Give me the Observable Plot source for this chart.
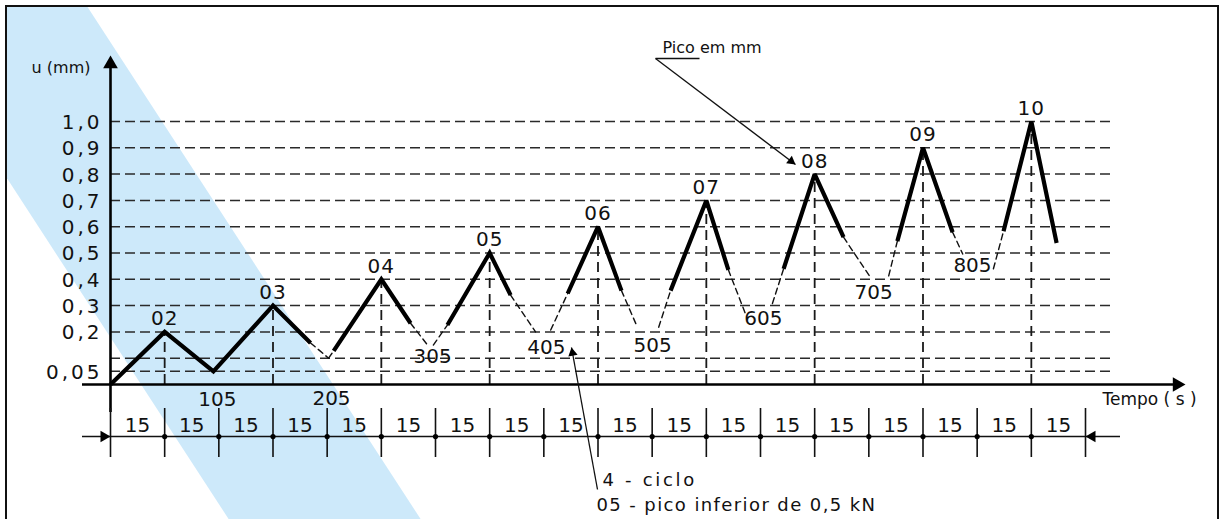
<!DOCTYPE html>
<html>
<head>
<meta charset="utf-8">
<script src="https://cdn.jsdelivr.net/npm/d3@7"></script>
<script src="https://cdn.jsdelivr.net/npm/@observablehq/plot@0.6"></script>
<style>
  html, body { margin: 0; padding: 0; background: #fff; }
  #wrap { position: relative; width: 1220px; height: 519px; overflow: hidden; background: #fff; }
  #frame { position: absolute; left: 5px; top: 5px; width: 1214px; height: 540px; border: 2px solid #111; box-sizing: border-box; overflow: hidden; }
  #band { position: absolute; left: -7px; top: -7px; width: 1220px; height: 545px; background: #cde9fa;
          clip-path: polygon(-109px 0px, 83px 0px, 431px 535px, 239px 535px); }
  #chart { position: absolute; left: 0; top: 0; }
</style>
</head>
<body>
<div id="wrap">
  <div id="frame"><div id="band"></div></div>
  <div id="chart"></div>
</div>
<script>
// ---------- data ----------
const peakLabels = ["02", "03", "04", "05", "06", "07", "08", "09", "10"];
const peakTime   = [15, 45, 75, 105, 135, 165, 195, 225, 255];
const peakValue  = [0.2, 0.3, 0.4, 0.5, 0.6, 0.7, 0.8, 0.9, 1.0];

// where the thick (solid) rise towards each peak begins
const riseStartTime  = [0, 28.5, 61.8, 93.3, 126.6, 155.1, 186.4, 217.9, 247.3];
const riseStartValue = [0, 0.05, 0.128, 0.226, 0.346, 0.357, 0.44, 0.545, 0.583];
// where the thick (solid) fall after each peak ends
const fallEndTime  = [28.5, 55.4, 83.1, 110.8, 141.5, 171.1, 203.0, 233.2, 262.0];
const fallEndValue = [0.05, 0.158, 0.233, 0.34, 0.357, 0.436, 0.56, 0.579, 0.538];

// lower peaks (valleys), drawn thin and dashed
const valleyLabels     = ["105", "205", "305", "405", "505", "605", "705", "805"];
const valleyInTime     = [28.5, 60.4, 87.8, 117.7, 145.9, 175.8, 210.5, 236.0];
const valleyInValue    = [0.05, 0.10, 0.15, 0.20, 0.218, 0.27, 0.406, 0.496];
const valleyOutTime    = [28.5, 60.4, 89.4, 121.9, 151.8, 183.3, 215.5, 244.5];
const valleyOutValue   = [0.05, 0.10, 0.15, 0.207, 0.218, 0.308, 0.413, 0.44];
const valleyLabelTime  = [29.6, 61.2, 89.2, 120.7, 150.1, 180.8, 211.3, 238.7];
const valleyLabelValue = [-0.057, -0.053, 0.106, 0.141, 0.148, 0.251, 0.35, 0.452];

// horizontal reference lines and the labelled ticks of u (mm)
const gridValues  = [0.05, 0.1, 0.2, 0.3, 0.4, 0.5, 0.6, 0.7, 0.8, 0.9, 1.0];
const yTickValues = [0.05, 0.2, 0.3, 0.4, 0.5, 0.6, 0.7, 0.8, 0.9, 1.0];

// time intervals (s) of the dimension line
const intervalSeconds = [15, 15, 15, 15, 15, 15, 15, 15, 15, 15, 15, 15, 15, 15, 15, 15, 15, 15];

// texts
const yTitle = "u (mm)";
const xTitle = "Tempo ( s )";
const peakNote = "Pico em mm";
const captionLines = ["4 - ciclo", "05 - pico inferior de 0,5 kN"];

// ---------- derived tables ----------
const peaks = peakLabels.map((label, i) => ({label, t: peakTime[i], u: peakValue[i]}));
const valleys = valleyLabels.map((label, i) => ({label, t: valleyLabelTime[i], u: valleyLabelValue[i]}));
const timeMarks = [0, ...d3.cumsum(intervalSeconds)];
const intervals = intervalSeconds.map((s, i) => ({s, mid: timeMarks[i] + s / 2}));
const fmt = v => v === 0.05 ? "0,05" : v.toFixed(1).replace(".", ",");

// solid polylines: riseStart -> peak -> fallEnd, merged when continuous
const solidRows = [];
let id = 0;
for (let i = 0; i < peaks.length; i++) {
  const continuous = i > 0 && riseStartTime[i] === fallEndTime[i - 1] && riseStartValue[i] === fallEndValue[i - 1];
  if (!continuous) {
    id++;
    solidRows.push({id, t: riseStartTime[i], u: riseStartValue[i]});
  }
  solidRows.push({id, t: peakTime[i], u: peakValue[i]});
  solidRows.push({id, t: fallEndTime[i], u: fallEndValue[i]});
}
// dashed pieces around each valley
const dashedRows = [];
for (let j = 0; j < valleyLabels.length; j++) {
  dashedRows.push({id: "a" + j, t: fallEndTime[j], u: fallEndValue[j]});
  dashedRows.push({id: "a" + j, t: valleyInTime[j], u: valleyInValue[j]});
  dashedRows.push({id: "b" + j, t: valleyOutTime[j], u: valleyOutValue[j]});
  dashedRows.push({id: "b" + j, t: riseStartTime[j + 1], u: riseStartValue[j + 1]});
}

// ---------- layout ----------
const W = 1220, H = 519;
const mL = 110, mR = 135, mT = 121, mB = 135;
const xDomain = [0, 270];
const pxT = (W - mL - mR) / (xDomain[1] - xDomain[0]);
const pxU = (H - mT - mB);
const tOfPx = px => (px - mL) / pxT;          // helpers for annotation placement
const uOfPx = py => (H - mB - py) / pxU;

function head(t, u, angle, r) {
  const s = 1.2103 * r;
  const a = angle * Math.PI / 180;
  return Plot.dot([{t, u}], {
    x: "t", y: "u", symbol: "triangle2", r, rotate: angle,
    dx: -s * Math.sin(a), dy: s * Math.cos(a), fill: "#000", stroke: "none"
  });
}
function angleOf(t1, u1, t2, u2) {
  const dx = (t2 - t1) * pxT, dy = -(u2 - u1) * pxU;
  return Math.atan2(dx, -dy) * 180 / Math.PI;
}

const dimU = -0.198;
const axisLeftT = tOfPx(82), axisTipT = tOfPx(1185);
const yTipU = uOfPx(55);
const pico = {t: tOfPx(662), u: uOfPx(47)};
const picoLine = {t1: tOfPx(655), u1: uOfPx(58), t2: tOfPx(699), tip: {t: tOfPx(795), u: uOfPx(164)}};
const cap = {t: tOfPx(602), u1: uOfPx(480), u2: uOfPx(505), t2: tOfPx(596)};
const capLine = {t1: tOfPx(597), u1: uOfPx(489), t2: tOfPx(571), u2: uOfPx(347)};

const ink = "#111";
const plot = Plot.plot({
  width: W, height: H,
  marginLeft: mL, marginRight: mR, marginTop: mT, marginBottom: mB,
  x: {domain: xDomain, axis: null},
  y: {domain: [0, 1], axis: null},
  style: {background: "transparent", fontFamily: "'DejaVu Sans', sans-serif", color: ink},
  marks: [
    // dashed reference lines
    Plot.ruleY(gridValues, {y: d => d, x1: () => 0, x2: () => tOfPx(1113), stroke: "#2a2a2a", strokeWidth: 1.5, strokeDasharray: "10,5"}),
    // dashed verticals under the peaks
    Plot.ruleX(peaks, {x: "t", y1: () => 0, y2: "u", stroke: "#1a1a1a", strokeWidth: 1.8, strokeDasharray: "10,6"}),
    // thin dashed parts near the lower peaks
    Plot.line(dashedRows, {x: "t", y: "u", z: "id", stroke: ink, strokeWidth: 1.4, strokeDasharray: "6,4"}),
    // thick solid parts
    Plot.line(solidRows, {x: "t", y: "u", z: "id", stroke: "#000", strokeWidth: 4.2, strokeLinejoin: "miter", strokeMiterlimit: 2.2, strokeLinecap: "butt"}),
    // axes
    Plot.ruleX([0], {x: d => d, y1: () => -0.106, y2: () => yTipU - 10 / pxU, stroke: "#000", strokeWidth: 2.6}),
    head(0, yTipU, 0, 7),
    Plot.ruleY([0], {y: d => d, x1: () => axisLeftT, x2: () => axisTipT - 10 / pxT, stroke: "#000", strokeWidth: 2.6}),
    head(axisTipT, 0, 90, 7),
    // dimension line
    Plot.ruleY([dimU], {y: d => d, x1: () => axisLeftT, x2: () => tOfPx(1120), stroke: ink, strokeWidth: 1.5}),
    Plot.ruleX(timeMarks, {x: d => d, y1: () => uOfPx(408), y2: () => uOfPx(457), stroke: ink, strokeWidth: 1.6}),
    Plot.dot(timeMarks.slice(1, -1), {x: d => d, y: () => dimU, r: 2.6, fill: "#000", stroke: "none"}),
    head(0, dimU, 90, 5.5),
    head(timeMarks[timeMarks.length - 1], dimU, -90, 5.5),
    Plot.text(intervals, {x: "mid", y: () => uOfPx(425), text: d => String(d.s), fontSize: 20, fill: ink}),
    // tick labels and titles
    Plot.text(yTickValues, {x: () => 0, y: d => d, text: fmt, textAnchor: "end", dx: -8, dy: 1, fontSize: 20, fill: ink}),
    Plot.text([yTitle], {x: () => tOfPx(90), y: () => uOfPx(67), text: d => d, textAnchor: "end", fontSize: 16, fill: ink}),
    Plot.text([xTitle], {x: () => tOfPx(1102), y: () => uOfPx(399), text: d => d, textAnchor: "start", fontSize: 17, fill: ink}),
    // peak and valley labels
    Plot.text(peaks, {x: "t", y: "u", text: "label", dy: -13, fontSize: 20, fill: ink}),
    Plot.text(valleys, {x: "t", y: "u", text: "label", fontSize: 20, fill: ink}),
    // "Pico em mm" note
    Plot.text([peakNote], {x: () => pico.t, y: () => pico.u, text: d => d, textAnchor: "start", fontSize: 16, fill: ink}),
    Plot.link([picoLine], {x1: "t1", y1: "u1", x2: "t2", y2: "u1", stroke: ink, strokeWidth: 1.3}),
    Plot.link([picoLine], {x1: "t1", y1: "u1", x2: d => d.tip.t, y2: d => d.tip.u, stroke: ink, strokeWidth: 1.3}),
    head(picoLine.tip.t, picoLine.tip.u, angleOf(picoLine.t1, picoLine.u1, picoLine.tip.t, picoLine.tip.u), 4.5),
    // caption with leader
    Plot.link([capLine], {x1: "t1", y1: "u1", x2: "t2", y2: "u2", stroke: ink, strokeWidth: 1.3}),
    head(capLine.t2, capLine.u2, angleOf(capLine.t1, capLine.u1, capLine.t2, capLine.u2), 4.5),
    Plot.text([captionLines[0]], {x: () => cap.t, y: () => cap.u1, text: d => d, textAnchor: "start", fontSize: 18, fill: ink}),
    Plot.text([captionLines[1]], {x: () => cap.t2, y: () => cap.u2, text: d => d, textAnchor: "start", fontSize: 18, fill: ink})
  ]
});
document.getElementById("chart").appendChild(plot);
// letter spacing of the lettering, chosen by text content
const spacingOf = new Map();
yTickValues.forEach(v => spacingOf.set(fmt(v), "3px"));
spacingOf.set(captionLines[0], "2.7px");
spacingOf.set(captionLines[1], "1.4px");
peakLabels.forEach(l => spacingOf.set(l, "1px"));
plot.querySelectorAll("text").forEach(t => {
  const ls = spacingOf.get(t.textContent);
  if (ls) t.style.letterSpacing = ls;
});
</script>
</body>
</html>
